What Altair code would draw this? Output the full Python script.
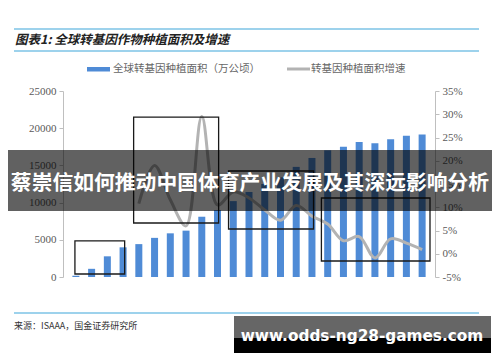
import altair as alt
import pandas as pd

# ---- data ----
years = list(range(1996, 2019))
area = [170, 1100, 2780, 3990, 4420, 5260, 5870, 6230, 8100, 9000, 10200, 11430,
        12500, 13400, 14800, 16000, 17030, 17520, 18150, 17970, 18510, 18980, 19170]
growth_years = list(range(2000, 2019))
growth = [0.108, 0.190, 0.116, 0.060, 0.295, 0.105, 0.133, 0.120, 0.094, 0.072,
          0.104, 0.081, 0.064, 0.028, 0.037, -0.009, 0.032, 0.023, 0.009]
left_ticks = [0, 5000, 10000, 15000, 20000, 25000]
right_ticks = [-0.05, 0.0, 0.05, 0.10, 0.15, 0.20, 0.25, 0.30, 0.35]
# annotation boxes in data units (year range, area range)
box_x0 = [1995.94, 1999.67, 2005.7, 2011.6]
box_x1 = [1999.1, 2005.07, 2011.1, 2018.5]
box_y0 = [400, 7260, 6450, 2150]
box_y1 = [4850, 21500, 14250, 10620]

title_text = "图表1:  全球转基因作物种植面积及增速"
legend_bar = "全球转基因种植面积（万公顷）"
legend_line = "转基因种植面积增速"
source_text = "来源：ISAAA，国金证券研究所"
banner_text = "蔡崇信如何推动中国体育产业发展及其深远影响分析"
watermark_text = "www.odds-ng28-games.com"

df_bar = pd.DataFrame({"year": years, "area": area})
df_line = pd.DataFrame({"year": growth_years, "growth": growth})
df_box = pd.DataFrame({"x0": box_x0, "x1": box_x1, "y0": box_y0, "y1": box_y1})

W, H = 372, 186
BLUE = "#4F8BD6"
AX = "#bfbfbf"
LBL = "#595959"
SERIF = "Liberation Serif"
CJK = "Noto Sans CJK SC"

xscale = alt.Scale(domain=[1995.5, 2018.5], nice=False, zero=False)
yleft = alt.Scale(domain=[0, 25000], nice=False)
yright = alt.Scale(domain=[-0.05, 0.35], nice=False)

bars = alt.Chart(df_bar).mark_bar(color=BLUE, size=7).encode(
    x=alt.X("year:Q", scale=xscale, title=None,
            axis=alt.Axis(values=years, format="d", labelAngle=-90, labelAlign="right",
                          labelBaseline="middle", labelFont=SERIF, labelFontSize=11,
                          labelColor=LBL, ticks=False, domainColor=AX, labelPadding=5,
                          grid=False, labelFlush=False, labelOverlap=False)),
    y=alt.Y("area:Q", scale=yleft, title=None,
            axis=alt.Axis(orient="left", values=left_ticks, format="d", labelFont=SERIF,
                          labelFontSize=11, labelColor=LBL, tickColor=AX, tickSize=4,
                          domainColor=AX, grid=False, labelPadding=3)),
)

line = alt.Chart(df_line).mark_line(color="#b3b3b3", strokeWidth=3,
                                    interpolate="catmull-rom").encode(
    x=alt.X("year:Q", scale=xscale, axis=None),
    y=alt.Y("growth:Q", scale=yright, title=None,
            axis=alt.Axis(orient="right", values=right_ticks,
                          labelExpr="round(datum.value*100) + '%'", labelFont=SERIF,
                          labelFontSize=11, labelColor=LBL, tickColor=AX, tickSize=4,
                          domainColor=AX, grid=False, labelPadding=3)),
)

boxes = alt.Chart(df_box).mark_rect(fill=None, stroke="#1a1a1a", strokeWidth=1.3).encode(
    x=alt.X("x0:Q", scale=xscale, axis=None),
    x2="x1:Q",
    y=alt.Y("y0:Q", scale=yleft, axis=None),
    y2="y1:Q",
)

one = pd.DataFrame({"a": [0]})
base = alt.Chart(one)

# decorations (relative to plot origin at (63, 91))
OX, OY = 63, 91
def hx(v):
    return alt.value(v - OX)
def hy(v):
    return alt.value(v - OY)

rules = []
for yy in [29, 51, 313]:
    rules.append(base.mark_rule(color="#7cc3e6", strokeWidth=1.5).encode(
        x=hx(14), x2=hx(479), y=hy(yy)))

title = base.mark_text(text=title_text, font=CJK, fontSize=12.5, fontWeight="bold",
                       fontStyle="italic", color="#222222", align="left",
                       baseline="middle").encode(x=hx(15), y=hy(40))

leg_rect = base.mark_rect(color=BLUE).encode(x=hx(87), x2=hx(110), y=hy(67), y2=hy(71.5))
leg_t1 = base.mark_text(text=legend_bar, font=CJK, fontSize=10.5, color="#666666",
                        align="left", baseline="middle").encode(x=hx(113), y=hy(69))
leg_line = base.mark_rule(color="#b3b3b3", strokeWidth=3).encode(
    x=hx(287), x2=hx(310), y=hy(69))
leg_t2 = base.mark_text(text=legend_line, font=CJK, fontSize=10.5, color="#666666",
                        align="left", baseline="middle").encode(x=hx(311), y=hy(69))

source = base.mark_text(text=source_text, font=CJK, fontSize=9, color="#333333",
                        align="left", baseline="middle").encode(x=hx(14), y=hy(326))

banner = base.mark_rect(color="#000000", opacity=0.62).encode(
    x=hx(8), x2=hx(492), y=hy(150), y2=hy(211))
banner_t = base.mark_text(text=banner_text, font=CJK, fontSize=20.8, fontWeight="bold",
                          color="#ffffff", align="center", baseline="middle").encode(
    x=hx(250), y=hy(184))

wm_top = base.mark_rect(color="#666666").encode(x=hx(234), x2=hx(491), y=hy(316), y2=hy(338))
wm_bot = base.mark_rect(color="#000000").encode(x=hx(234), x2=hx(491), y=hy(338), y2=hy(353))
wm_t = base.mark_text(text=watermark_text, font="DejaVu Sans", fontSize=15.3,
                      fontWeight="bold", color="#ffffff", align="center",
                      baseline="middle").encode(x=hx(362), y=hy(336))

chart = alt.layer(
    bars, line, boxes, *rules, title, leg_rect, leg_t1, leg_line, leg_t2, source,
    banner, banner_t, wm_top, wm_bot, wm_t
).resolve_scale(y="independent").properties(
    width=W, height=H,
    padding={"left": 63, "top": 91, "right": 65, "bottom": 85},
    autosize=alt.AutoSizeParams(type="none"),
    background="white",
).configure_view(stroke=None)

chart.save("out.html", embed_options={"renderer": "svg", "actions": False})
